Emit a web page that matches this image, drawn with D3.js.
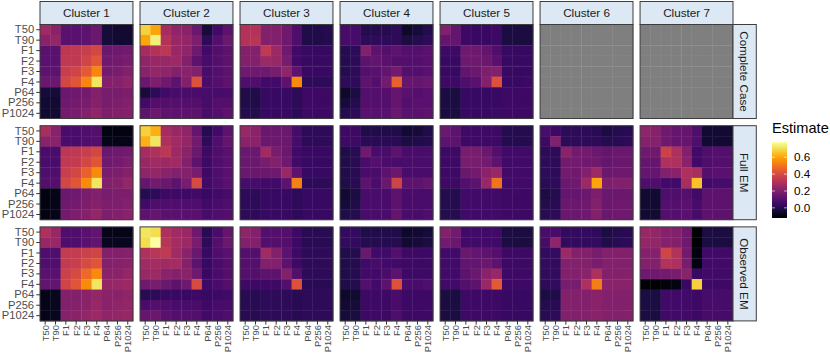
<!DOCTYPE html>
<html>
<head>
<meta charset="utf-8">
<script src="https://cdn.jsdelivr.net/npm/d3@7"></script>
<style>
  html, body { margin: 0; padding: 0; background: #ffffff; }
  svg { display: block; font-family: "Liberation Sans", Arial, Helvetica, sans-serif; }
</style>
</head>
<body>
<svg id="chart" width="830" height="354"></svg>
<script>
// ---------------- DATA ----------------
const vars = ["T50", "T90", "F1", "F2", "F3", "F4", "P64", "P256", "P1024"];
const clusters = ["Cluster 1", "Cluster 2", "Cluster 3", "Cluster 4", "Cluster 5", "Cluster 6", "Cluster 7"];
const methods = ["Complete Case", "Full EM", "Observed EM"];
const legendTicks = [0.0, 0.2, 0.4, 0.6];
const colorRange = [-0.12, 0.78];

// Lower-triangular estimate matrices (row i holds columns 0..i), symmetric
const c1_cc = [[0.27],[0.22,0.24],[0.11,0.11,0.33],[0.11,0.11,0.34,0.34],[0.12,0.12,0.36,0.38,0.44],[0.15,0.15,0.39,0.43,0.54,0.72],[-0.03,-0.03,0.15,0.16,0.17,0.20,0.18],[-0.04,-0.04,0.16,0.17,0.18,0.21,0.18,0.19],[-0.04,-0.04,0.17,0.18,0.20,0.23,0.19,0.20,0.21]];
const c1_fe = [[0.29],[0.22,0.22],[0.08,0.08,0.33],[0.08,0.08,0.34,0.35],[0.09,0.09,0.36,0.39,0.46],[0.10,0.10,0.39,0.43,0.55,0.72],[-0.09,-0.08,0.15,0.16,0.18,0.20,0.18],[-0.09,-0.08,0.16,0.17,0.19,0.21,0.19,0.19],[-0.09,-0.08,0.17,0.19,0.21,0.24,0.19,0.20,0.22]];
const c1_oe = [[0.30],[0.25,0.25],[0.09,0.09,0.35],[0.09,0.09,0.35,0.36],[0.11,0.11,0.37,0.40,0.48],[0.13,0.13,0.38,0.43,0.55,0.72],[-0.08,-0.07,0.20,0.20,0.22,0.24,0.22],[-0.08,-0.07,0.20,0.21,0.22,0.25,0.22,0.23],[-0.08,-0.07,0.21,0.22,0.24,0.26,0.23,0.24,0.25]];

const c2_cc = [[0.68],[0.60,0.74],[0.28,0.31,0.33],[0.23,0.25,0.25,0.26],[0.22,0.24,0.23,0.20,0.22],[0.15,0.19,0.16,0.12,0.20,0.42],[-0.03,0.02,0.06,0.07,0.08,0.08,0.07],[0.06,0.10,0.10,0.10,0.10,0.10,0.07,0.10],[0.12,0.15,0.12,0.12,0.12,0.12,0.08,0.10,0.12]];
const c2_fe = [[0.68],[0.62,0.72],[0.28,0.30,0.33],[0.25,0.27,0.26,0.27],[0.23,0.24,0.22,0.20,0.21],[0.14,0.17,0.15,0.12,0.18,0.40],[0.00,0.02,0.05,0.05,0.05,0.06,0.04],[0.06,0.09,0.09,0.09,0.09,0.09,0.06,0.08],[0.12,0.14,0.11,0.11,0.11,0.11,0.07,0.09,0.10]];
const c2_oe = [[0.72],[0.70,0.78],[0.30,0.32,0.34],[0.27,0.28,0.27,0.28],[0.25,0.26,0.22,0.21,0.22],[0.16,0.18,0.15,0.12,0.16,0.40],[0.01,0.02,0.04,0.04,0.04,0.05,0.04],[0.08,0.10,0.09,0.08,0.08,0.08,0.05,0.07],[0.14,0.15,0.11,0.10,0.10,0.10,0.06,0.08,0.09]];

const c3_cc = [[0.31],[0.31,0.32],[0.20,0.20,0.34],[0.20,0.20,0.26,0.25],[0.16,0.16,0.16,0.18,0.23],[0.09,0.09,0.06,0.06,0.12,0.55],[-0.01,-0.01,0.04,0.04,0.04,0.02,0.05],[-0.01,-0.01,0.04,0.04,0.04,0.02,0.05,0.05],[0.00,0.00,0.04,0.04,0.04,0.02,0.05,0.05,0.05]];
const c3_fe = [[0.25],[0.22,0.22],[0.15,0.15,0.27],[0.15,0.15,0.18,0.20],[0.15,0.15,0.15,0.16,0.25],[0.07,0.07,0.06,0.06,0.12,0.53],[0.02,0.02,0.04,0.04,0.04,0.02,0.04],[0.02,0.02,0.04,0.04,0.04,0.02,0.04,0.04],[0.02,0.02,0.04,0.04,0.04,0.02,0.04,0.04,0.04]];
const c3_oe = [[0.23],[0.20,0.20],[0.10,0.10,0.27],[0.10,0.10,0.20,0.20],[0.10,0.10,0.12,0.12,0.20],[0.05,0.05,0.05,0.05,0.10,0.42],[0.01,0.01,0.02,0.02,0.02,0.01,0.02],[0.01,0.01,0.02,0.02,0.02,0.01,0.02,0.02],[0.01,0.01,0.02,0.02,0.02,0.01,0.02,0.02,0.02]];

const c4_cc = [[0.07],[0.07,0.07],[0.00,0.02,0.20],[0.00,0.02,0.12,0.13],[0.00,0.02,0.10,0.11,0.13],[0.02,0.02,0.12,0.10,0.17,0.46],[-0.05,-0.02,0.10,0.10,0.10,0.14,0.11],[-0.03,0.00,0.10,0.10,0.10,0.14,0.10,0.11],[0.00,0.02,0.11,0.11,0.11,0.15,0.11,0.11,0.12]];
const c4_fe = [[0.05],[0.05,0.05],[-0.01,0.01,0.16],[-0.01,0.01,0.08,0.10],[-0.01,0.01,0.08,0.08,0.12],[-0.01,0.01,0.12,0.08,0.15,0.38],[-0.04,-0.02,0.08,0.08,0.08,0.12,0.08],[-0.03,-0.01,0.08,0.08,0.08,0.12,0.08,0.08],[-0.01,0.00,0.08,0.08,0.08,0.14,0.08,0.08,0.09]];
const c4_oe = [[0.03],[0.03,0.03],[-0.01,0.00,0.15],[-0.01,0.00,0.06,0.07],[-0.01,0.00,0.06,0.06,0.08],[-0.01,0.00,0.10,0.06,0.12,0.42],[-0.05,-0.04,0.05,0.05,0.05,0.08,0.05],[-0.04,-0.03,0.05,0.05,0.05,0.08,0.05,0.05],[-0.03,-0.02,0.05,0.05,0.05,0.09,0.05,0.05,0.05]];

const c5_cc = [[0.20],[0.14,0.14],[0.05,0.05,0.16],[0.04,0.04,0.16,0.16],[0.04,0.04,0.13,0.15,0.19],[0.05,0.05,0.09,0.11,0.20,0.42],[-0.02,-0.02,0.04,0.04,0.04,0.04,0.05],[-0.02,-0.02,0.04,0.04,0.04,0.04,0.05,0.05],[-0.02,-0.02,0.04,0.04,0.04,0.05,0.05,0.05,0.05]];
const c5_fe = [[0.15],[0.12,0.12],[0.05,0.05,0.18],[0.05,0.05,0.18,0.18],[0.05,0.05,0.15,0.17,0.22],[0.05,0.05,0.10,0.12,0.25,0.50],[0.00,0.00,0.06,0.06,0.06,0.06,0.05],[0.00,0.00,0.06,0.06,0.06,0.06,0.05,0.05],[0.00,0.00,0.06,0.06,0.06,0.06,0.05,0.05,0.05]];
const c5_oe = [[0.20],[0.17,0.15],[0.06,0.06,0.15],[0.06,0.06,0.13,0.13],[0.06,0.06,0.12,0.15,0.22],[0.06,0.06,0.10,0.12,0.25,0.44],[-0.02,-0.02,0.05,0.05,0.05,0.05,0.04],[-0.02,-0.02,0.05,0.05,0.05,0.05,0.04,0.04],[-0.02,-0.02,0.05,0.05,0.05,0.05,0.04,0.04,0.04]];

const c6_cc = null;
const c6_fe = [[0.08],[0.05,0.20],[0.02,0.02,0.22],[0.02,0.02,0.17,0.17],[0.02,0.02,0.17,0.16,0.20],[0.01,0.02,0.15,0.16,0.26,0.60],[-0.02,0.00,0.14,0.14,0.15,0.19,0.15],[0.00,0.01,0.15,0.15,0.16,0.20,0.15,0.16],[0.01,0.02,0.15,0.15,0.16,0.20,0.15,0.16,0.16]];
const c6_oe = [[0.08],[0.07,0.23],[0.03,0.03,0.26],[0.03,0.03,0.20,0.20],[0.03,0.03,0.20,0.20,0.22],[0.02,0.03,0.18,0.18,0.30,0.52],[-0.02,-0.01,0.20,0.20,0.20,0.22,0.20],[0.00,0.01,0.20,0.20,0.20,0.22,0.20,0.20],[0.01,0.02,0.20,0.20,0.21,0.22,0.20,0.20,0.21]];

const c7_cc = null;
const c7_fe = [[0.23],[0.21,0.21],[0.16,0.16,0.37],[0.14,0.14,0.30,0.30],[0.14,0.14,0.20,0.22,0.30],[0.09,0.09,0.06,0.06,0.29,0.65],[-0.04,-0.04,0.09,0.09,0.10,0.06,0.12],[-0.04,-0.04,0.10,0.10,0.11,0.07,0.12,0.12],[-0.04,-0.04,0.10,0.10,0.11,0.07,0.12,0.12,0.12]];
const c7_oe = [[0.25],[0.24,0.24],[0.21,0.21,0.38],[0.20,0.20,0.31,0.30],[0.16,0.16,0.17,0.18,0.22],[-0.12,-0.12,-0.10,-0.09,0.04,0.68],[-0.02,-0.02,0.06,0.06,0.06,0.05,0.07],[-0.02,-0.02,0.06,0.06,0.06,0.05,0.07,0.07],[-0.02,-0.02,0.06,0.06,0.06,0.05,0.07,0.07,0.07]];

const panelData = {
  "Complete Case": [c1_cc, c2_cc, c3_cc, c4_cc, c5_cc, c6_cc, c7_cc],
  "Full EM":       [c1_fe, c2_fe, c3_fe, c4_fe, c5_fe, c6_fe, c7_fe],
  "Observed EM":   [c1_oe, c2_oe, c3_oe, c4_oe, c5_oe, c6_oe, c7_oe]
};

// ---------------- LAYOUT ----------------
const W = 830, H = 354;
const svg = d3.select("#chart");
const colX = d3.scaleBand().domain(clusters).range([40, 40 + 99 * 7]).paddingInner(7 / 99).paddingOuter(0);
const rowY = d3.scaleBand().domain(methods).range([24.5, 24.5 + 98.8 * 3]).paddingInner(7 / 98.8).paddingOuter(0);
const stripH = 23, stripW = 23.3;
const fontStack = "'Liberation Sans', Arial, Helvetica, sans-serif";

const color = d3.scaleSequential(d3.interpolateInferno).domain(colorRange);
const NA_COLOR = "#7f7f7f";

const xs = d3.scaleBand().domain(vars).range([0, colX.bandwidth()]);
const ys = d3.scaleBand().domain(vars).range([0, rowY.bandwidth()]);

function valueAt(L, i, j) {
  if (!L) return null;
  return i >= j ? L[i][j] : L[j][i];
}

const xLabelOffset = 4.2;
methods.forEach((m, mi) => {
  clusters.forEach((c, ci) => {
    const L = panelData[m][ci];
    const g = svg.append("g").attr("transform", `translate(${colX(c)},${rowY(m)})`);
    const cells = [];
    vars.forEach((rv, i) => vars.forEach((cv, j) => cells.push({ r: rv, c: cv, v: valueAt(L, i, j) })));
    g.selectAll("rect.cell").data(cells).join("rect")
      .attr("class", "cell")
      .attr("x", d => xs(d.c))
      .attr("y", d => ys(d.r))
      .attr("width", xs.bandwidth() + 0.4)
      .attr("height", ys.bandwidth() + 0.4)
      .attr("fill", d => d.v == null ? NA_COLOR : color(d.v));
    [2, 3, 4, 5].forEach(k => {
      g.append("line").attr("x1", xs(vars[k])).attr("x2", xs(vars[k]))
        .attr("y1", 0).attr("y2", ys.range()[1])
        .attr("stroke", "#ffffff").attr("stroke-opacity", 0.1).attr("stroke-width", 0.6);
      g.append("line").attr("y1", ys(vars[k])).attr("y2", ys(vars[k]))
        .attr("x1", 0).attr("x2", xs.range()[1])
        .attr("stroke", "#ffffff").attr("stroke-opacity", 0.1).attr("stroke-width", 0.6);
    });
    g.append("rect").attr("x", 0).attr("y", 0)
      .attr("width", colX.bandwidth()).attr("height", rowY.bandwidth())
      .attr("fill", "none").attr("stroke", "#3d3d3d").attr("stroke-width", 1);

    if (ci === 0) {
      const ax = g.append("g").call(d3.axisLeft(ys).tickSize(3.7).tickPadding(2.2).tickSizeOuter(0));
      ax.select(".domain").remove();
      ax.selectAll("line").attr("stroke", "#333333").attr("stroke-width", 1);
      ax.selectAll("text").attr("fill", "#4d4d4d").style("font-size", "11.2px").style("font-family", fontStack);
    }
    if (mi === methods.length - 1) {
      const ax = g.append("g").attr("class", "xaxis").attr("transform", `translate(0,${rowY.bandwidth()})`)
        .call(d3.axisBottom(xs).tickSize(3.7).tickSizeOuter(0));
      ax.select(".domain").remove();
      ax.selectAll("line").attr("stroke", "#333333").attr("stroke-width", 1);
      ax.selectAll("text")
        .attr("transform", "rotate(-90)")
        .attr("text-anchor", "end")
        .attr("x", -xLabelOffset).attr("y", 0).attr("dy", "0.36em")
        .attr("fill", "#4d4d4d").style("font-size", "10.8px").style("font-family", fontStack);
    }
  });
});

// keep rotated x labels inside the picture
(function fitXLabels() {
  const bottom = rowY(methods[2]) + rowY.bandwidth();
  const avail = H - 1.8 - bottom - xLabelOffset;
  let maxLen = 0;
  svg.selectAll(".xaxis text").each(function () { maxLen = Math.max(maxLen, this.getComputedTextLength()); });
  if (maxLen > avail) {
    const fs = 10.8 * avail / maxLen;
    svg.selectAll(".xaxis text").style("font-size", fs + "px");
  }
})();

// top strips
clusters.forEach(c => {
  const g = svg.append("g").attr("transform", `translate(${colX(c)},${24.5 - stripH})`);
  g.append("rect").attr("width", colX.bandwidth()).attr("height", stripH)
    .attr("fill", "#dce8f4").attr("stroke", "#3d3d3d").attr("stroke-width", 1);
  g.append("text").attr("x", colX.bandwidth() / 2).attr("y", stripH / 2).attr("dy", "0.36em")
    .attr("text-anchor", "middle").attr("fill", "#1a1a1a")
    .style("font-size", "11.7px").style("font-family", fontStack).text(c);
});

// right strips
const stripX = colX(clusters[6]) + colX.bandwidth();
methods.forEach(m => {
  const g = svg.append("g").attr("transform", `translate(${stripX},${rowY(m)})`);
  g.append("rect").attr("width", stripW).attr("height", rowY.bandwidth())
    .attr("fill", "#dce8f4").attr("stroke", "#3d3d3d").attr("stroke-width", 1);
  g.append("text")
    .attr("transform", `translate(${stripW / 2},${rowY.bandwidth() / 2}) rotate(90)`)
    .attr("dy", "0.36em").attr("text-anchor", "middle").attr("fill", "#1a1a1a")
    .style("font-size", "11.7px").style("font-family", fontStack).text(m);
});

// legend
const lg = svg.append("g");
lg.append("text").attr("x", 772).attr("y", 133).attr("fill", "#000")
  .style("font-size", "14.6px").style("font-family", fontStack).text("Estimate");
const barX = 772, barW = 15, barTop = 142, barBot = 218;
const ly = d3.scaleLinear().domain(colorRange).range([barBot, barTop]);
const grad = svg.append("defs").append("linearGradient").attr("id", "lgrad")
  .attr("x1", 0).attr("y1", 1).attr("x2", 0).attr("y2", 0);
d3.range(0, 1.0001, 0.05).forEach(t => {
  grad.append("stop").attr("offset", t)
    .attr("stop-color", color(colorRange[0] + t * (colorRange[1] - colorRange[0])));
});
lg.append("rect").attr("x", barX).attr("y", barTop).attr("width", barW).attr("height", barBot - barTop)
  .attr("fill", "url(#lgrad)");
legendTicks.forEach(t => {
  const y = ly(t);
  lg.append("line").attr("x1", barX).attr("x2", barX + 3).attr("y1", y).attr("y2", y)
    .attr("stroke", "#ffffff").attr("stroke-opacity", 0.8).attr("stroke-width", 0.8);
  lg.append("line").attr("x1", barX + barW - 3).attr("x2", barX + barW).attr("y1", y).attr("y2", y)
    .attr("stroke", "#ffffff").attr("stroke-opacity", 0.8).attr("stroke-width", 0.8);
  lg.append("text").attr("x", barX + barW + 7).attr("y", y).attr("dy", "0.36em")
    .attr("fill", "#000").style("font-size", "11.7px").style("font-family", fontStack)
    .text(d3.format(".1f")(t));
});
</script>
</body>
</html>
